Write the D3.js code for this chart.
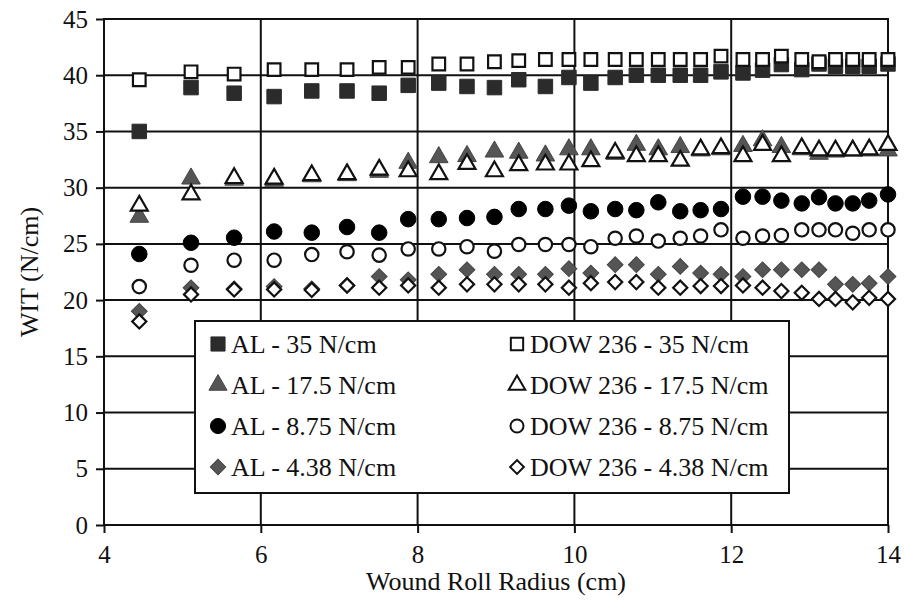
<!DOCTYPE html>
<html><head><meta charset="utf-8">
<script src="https://cdn.jsdelivr.net/npm/d3@7"></script>
<style>body{margin:0;background:#fff}svg{display:block}</style>
</head><body>
<svg id="c" width="905" height="605"></svg>
<script>
const radius = [4.45,5.11,5.66,6.17,6.65,7.10,7.51,7.88,8.27,8.63,8.98,9.29,9.63,9.93,10.21,10.52,10.79,11.07,11.35,11.61,11.87,12.15,12.40,12.64,12.90,13.12,13.33,13.55,13.76,14.00];
const al35   = [35.0,38.9,38.4,38.1,38.6,38.6,38.4,39.1,39.3,39.0,38.9,39.6,39.0,39.8,39.3,39.8,40.0,40.0,40.0,40.0,40.3,40.2,40.45,40.95,40.5,41.0,40.8,40.8,40.8,41.0];
const dow35  = [39.6,40.3,40.1,40.5,40.5,40.5,40.7,40.7,41.0,41.0,41.2,41.3,41.4,41.4,41.4,41.4,41.4,41.4,41.4,41.4,41.7,41.4,41.4,41.7,41.4,41.2,41.4,41.4,41.4,41.4];
const al175  = [27.4,30.8,30.7,30.6,31.0,31.1,31.4,32.2,32.7,32.8,33.2,33.1,32.85,33.4,33.4,33.0,33.8,33.4,33.6,33.3,33.4,33.7,34.2,33.6,33.4,33.0,33.2,33.3,33.3,33.3];
const dow175 = [28.4,29.4,30.85,30.8,31.1,31.2,31.6,31.45,31.2,32.1,31.45,32.0,32.05,32.05,32.35,33.1,32.8,32.8,32.4,33.4,33.5,32.8,33.8,32.8,33.5,33.3,33.3,33.3,33.4,33.8];
const al875  = [24.1,25.1,25.55,26.1,26.0,26.5,26.0,27.2,27.2,27.3,27.4,28.1,28.1,28.4,27.9,28.1,28.0,28.7,27.9,28.0,28.1,29.2,29.2,28.85,28.6,29.15,28.6,28.6,28.85,29.4];
const dow875 = [21.2,23.1,23.55,23.55,24.05,24.3,24.0,24.55,24.55,24.75,24.35,24.95,24.95,24.95,24.75,25.5,25.7,25.25,25.5,25.7,26.25,25.5,25.7,25.75,26.25,26.25,26.25,25.95,26.25,26.25];
const al438  = [19.0,21.1,21.0,21.2,21.0,21.3,22.1,21.8,22.3,22.7,22.3,22.3,22.3,22.8,22.4,23.15,23.15,22.3,23.0,22.4,22.3,22.1,22.7,22.7,22.7,22.7,21.4,21.4,21.5,22.1];
const dow438 = [18.1,20.5,20.95,20.95,20.9,21.3,21.1,21.3,21.1,21.4,21.4,21.4,21.4,21.1,21.5,21.6,21.6,21.1,21.1,21.25,21.25,21.3,21.1,20.8,20.65,20.1,20.1,19.8,20.2,20.1];
const xTicks = [4,6,8,10,12,14];
const yTicks = [0,5,10,15,20,25,30,35,40,45];
const seriesNames = ["AL - 35 N/cm","DOW 236 - 35 N/cm","AL - 17.5 N/cm","DOW 236 - 17.5 N/cm","AL - 8.75 N/cm","DOW 236 - 8.75 N/cm","AL - 4.38 N/cm","DOW 236 - 4.38 N/cm"];
const seriesValues = [al35,dow35,al175,dow175,al875,dow875,al438,dow438];

const FONT = '"Liberation Serif", "Times New Roman", serif';
const styles = [
  {sym:d3.symbolSquare,size:210,rot:0,fill:"#2b2b2b",stroke:"#2b2b2b"},
  {sym:d3.symbolSquare,size:160,rot:0,fill:"#fff",stroke:"#111"},
  {sym:d3.symbolTriangle,size:150,rot:0,fill:"#555",stroke:"#444"},
  {sym:d3.symbolTriangle,size:125,rot:0,fill:"#fff",stroke:"#111"},
  {sym:d3.symbolCircle,size:190,rot:0,fill:"#000",stroke:"#000"},
  {sym:d3.symbolCircle,size:140,rot:0,fill:"#fff",stroke:"#111"},
  {sym:d3.symbolSquare,size:125,rot:45,fill:"#555",stroke:"#444"},
  {sym:d3.symbolSquare,size:100,rot:45,fill:"#fff",stroke:"#111"}
];

const svg = d3.select("#c");
const L=104,R=888,T=19,B=525;
const x = d3.scaleLinear().domain([4,14]).range([L,R]);
const y = d3.scaleLinear().domain([0,45]).range([B,T]);

svg.append("g").selectAll("line").data(yTicks).join("line")
  .attr("x1",L).attr("x2",R).attr("y1",d=>y(d)).attr("y2",d=>y(d))
  .attr("stroke","#111").attr("stroke-width",2);
svg.append("g").selectAll("line").data(xTicks).join("line")
  .attr("y1",T).attr("y2",B).attr("x1",d=>x(d)).attr("x2",d=>x(d))
  .attr("stroke","#111").attr("stroke-width",2);
svg.append("rect").attr("x",L).attr("y",T).attr("width",R-L).attr("height",B-T)
  .attr("fill","none").attr("stroke","#111").attr("stroke-width",2);

const xa = svg.append("g").attr("transform",`translate(0,${B})`)
  .call(d3.axisBottom(x).tickValues(xTicks).tickSize(8).tickPadding(12).tickFormat(d3.format("d")));
const ya = svg.append("g").attr("transform",`translate(${L},0)`)
  .call(d3.axisLeft(y).tickValues(yTicks).tickSize(8).tickPadding(8).tickFormat(d3.format("d")));
[xa,ya].forEach(a=>{
  a.attr("font-family",null);
  a.select(".domain").remove();
  a.selectAll(".tick line").attr("stroke","#111").attr("stroke-width",2);
  a.selectAll(".tick text").style("font-family",FONT).style("font-size","25px").attr("fill","#111");
});

svg.append("text").attr("x",(L+R)/2).attr("y",590).attr("text-anchor","middle")
  .style("font-family",FONT).style("font-size","26px").attr("fill","#111").text("Wound Roll Radius (cm)");
svg.append("text").attr("transform",`translate(38,${(T+B)/2}) rotate(-90)`).attr("text-anchor","middle")
  .style("font-family",FONT).style("font-size","26px").attr("fill","#111").text("WIT (N/cm)");

seriesValues.forEach((vals,i)=>{
  const s=styles[i];
  const sym=d3.symbol().type(s.sym).size(s.size);
  svg.append("g").selectAll("path").data(radius.map((r,j)=>[r,vals[j]])).join("path")
    .attr("d",sym)
    .attr("transform",d=>`translate(${x(d[0])},${y(d[1])}) rotate(${s.rot})`)
    .attr("fill",s.fill).attr("stroke",s.stroke).attr("stroke-width",s.fill==="#fff"?2.2:1);
});

const lg = svg.append("g");
lg.append("rect").attr("x",195).attr("y",321).attr("width",594).attr("height",172)
  .attr("fill","#fff").attr("stroke","#111").attr("stroke-width",2);
const rowsY=[344,385,426,467];
seriesNames.forEach((name,i)=>{
  const col=i%2,row=Math.floor(i/2);
  const s=styles[i];
  const mx = col===0?218:517, tx = col===0?231:530;
  lg.append("path").attr("d",d3.symbol().type(s.sym).size(s.size*0.95)())
    .attr("transform",`translate(${mx},${rowsY[row]}) rotate(${s.rot})`)
    .attr("fill",s.fill).attr("stroke",s.stroke).attr("stroke-width",s.fill==="#fff"?2:1);
  lg.append("text").attr("x",tx).attr("y",rowsY[row]+9).style("font-family",FONT).style("font-size","26px")
    .attr("fill","#111").text(name);
});
</script>
</body></html>
